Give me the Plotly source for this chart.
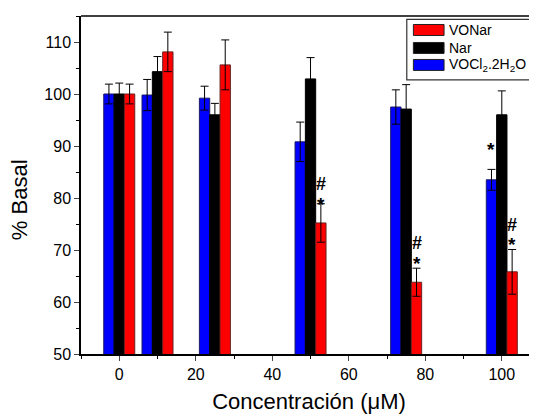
import plotly.graph_objects as go

conc = [0, 10, 25, 50, 75, 100]
vocl_vals = [100.0, 99.8, 99.2, 90.8, 97.5, 83.5]
vocl_err = [1.9, 3.0, 2.3, 3.8, 3.3, 2.0]
nar_vals = [100.0, 104.3, 96.0, 102.9, 97.1, 96.0]
nar_err = [2.1, 2.9, 2.2, 4.1, 4.7, 4.6]
vonar_vals = [100.0, 108.1, 105.6, 75.2, 63.8, 65.8]
vonar_err = [1.9, 3.8, 4.8, 3.7, 2.7, 4.3]

series_names = ["VOCl<sub>2</sub>.2H<sub>2</sub>O", "Nar", "VONar"]
series_colors = ["#0000ff", "#000000", "#ff0000"]
series_lines = ["#1a1a66", "#000000", "#6b2020"]

# significance marks: (concentration, series index, symbols from bottom to top)
sig_conc = [50, 75, 100, 100]
sig_series = [2, 2, 2, 0]
sig_text = [["*", "#"], ["*", "#"], ["*", "#"], ["*"]]
sig_gap = [-0.4, 0.6, 0.6, 3.5]

FONT = "Liberation Sans, Arial, sans-serif"

# The page body has an 8px default margin; the figure is sized to fill the rest of the window.
W, H = 529, 406
OFF = 8
PL, PR, PT, PB = 80.7, 537.0, 16.0, 354.3   # plot area in window pixels


def pxw(x):
    return (x - PL) / (PR - PL)


def pyw(y):
    return (PB - y) / (PB - PT)


fig = go.Figure()
vals = [vocl_vals, nar_vals, vonar_vals]
errs = [vocl_err, nar_err, vonar_err]
for i in range(3):
    fig.add_trace(go.Bar(
        x=conc, y=vals[i], name=series_names[i],
        marker=dict(color=series_colors[i], line=dict(color=series_lines[i], width=1)),
        error_y=dict(type="data", array=errs[i], visible=True, color="black", thickness=1, width=4),
        showlegend=False,
    ))

bar_w = 2.7
offsets = [-bar_w, 0, bar_w]
for c, s, txts, g in zip(sig_conc, sig_series, sig_text, sig_gap):
    idx = conc.index(c)
    top = vals[s][idx] + errs[s][idx] + g
    for k, t in enumerate(txts):
        fig.add_annotation(x=c + offsets[s], y=top + 3.3 * k, text="<b>%s</b>" % t,
                           showarrow=False, xref="x", yref="y",
                           font=dict(family=FONT, size=19 if t == "*" else 18, color="black"),
                           yanchor="bottom", yshift=-11 if t == "*" else -7.5)

# Legend drawn manually (wide swatches as in reference)
fig.add_shape(type="rect", xref="paper", yref="paper", x0=pxw(406.7), x1=pxw(533.3), y0=pyw(19.3), y1=pyw(80),
              line=dict(color="#333333", width=1.2), fillcolor="white")
leg_order = [2, 1, 0]
row_y = [30, 48, 65]
for r, si in enumerate(leg_order):
    fig.add_shape(type="rect", xref="paper", yref="paper",
                  x0=pxw(413.3), x1=pxw(444), y0=pyw(row_y[r] + 5.5), y1=pyw(row_y[r] - 5.5),
                  fillcolor=series_colors[si], line=dict(color="#222222", width=1))
    fig.add_annotation(xref="paper", yref="paper", x=pxw(446.5), y=pyw(row_y[r]), text=series_names[si],
                       showarrow=False, xanchor="left", yanchor="middle",
                       font=dict(family=FONT, size=14, color="black"))

# y-axis title (placed as in reference, slightly below plot centre)
fig.add_annotation(xref="paper", yref="paper", x=pxw(19), y=pyw(200), text="% Basal", textangle=-90,
                   showarrow=False, xanchor="center", yanchor="middle",
                   font=dict(family=FONT, size=22, color="black"))

# top frame line
fig.add_shape(type="line", xref="paper", yref="paper", x0=0, x1=1, y0=1, y1=1,
              line=dict(color="black", width=1.5))

fig.update_layout(
    width=W, height=H,
    margin=dict(l=PL - OFF, r=0, t=PT - OFF, b=H - (PB - OFF), pad=0),
    barmode="group", bargap=0.19, bargroupgap=0,
    plot_bgcolor="white", paper_bgcolor="white",
    font=dict(family=FONT, size=16, color="black"),
    xaxis=dict(range=[-10, 109.2], tick0=0, dtick=20, ticks="outside", ticklen=5, tickwidth=1.2,
               showline=True, linecolor="black", linewidth=1.5, showgrid=False, zeroline=False,
               automargin=False,
               minor=dict(tick0=10, dtick=20, ticks="outside", ticklen=3, tickwidth=1, tickcolor="black"),
               tickfont=dict(size=16),
               title=dict(text="Concentración (μM)", font=dict(size=22), standoff=25)),
    yaxis=dict(range=[50, 115], tick0=50, dtick=10, ticks="outside", ticklen=5, tickwidth=1.2,
               showline=True, linecolor="black", linewidth=1.5, showgrid=False, zeroline=False,
               automargin=False,
               minor=dict(tick0=55, dtick=10, ticks="outside", ticklen=3, tickwidth=1, tickcolor="black"),
               tickfont=dict(size=16)),
)

fig.write_html("out.html")
